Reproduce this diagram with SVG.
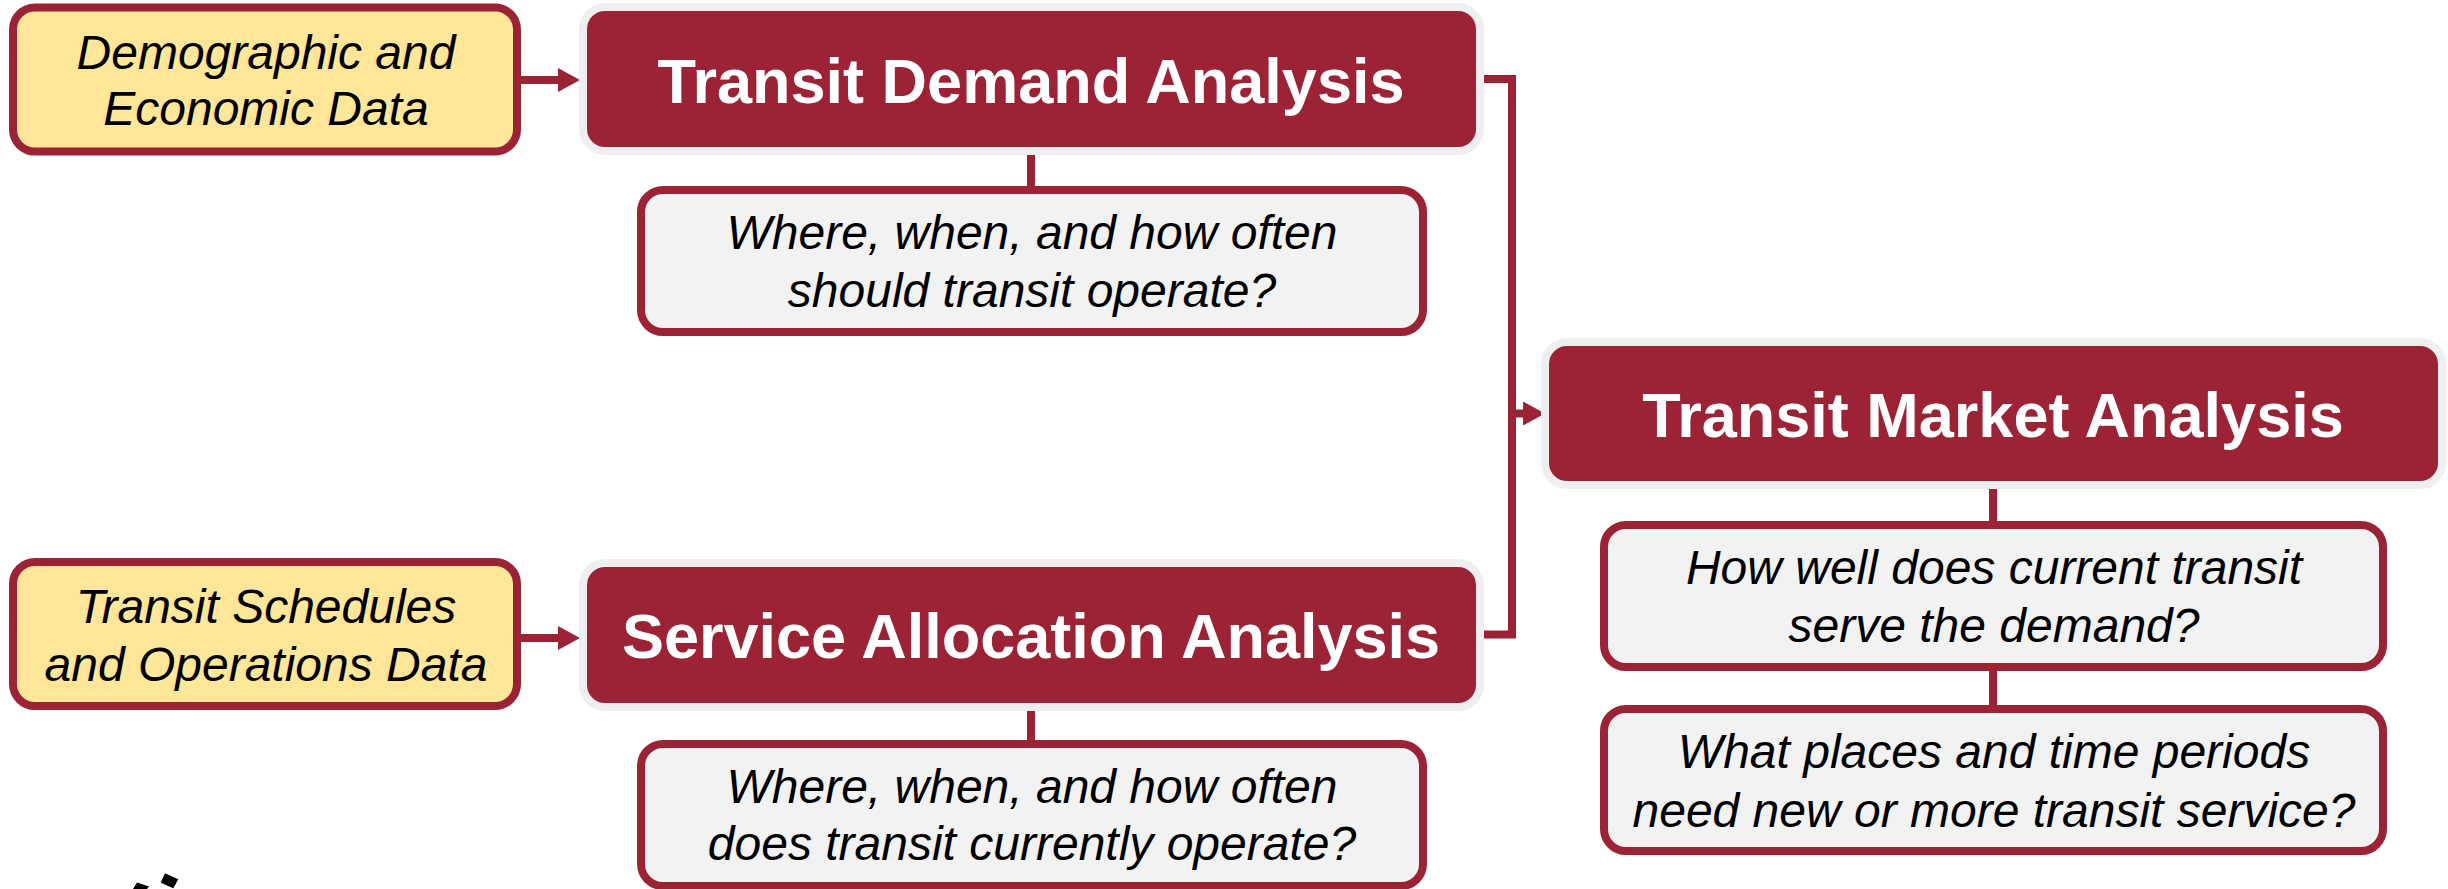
<svg xmlns="http://www.w3.org/2000/svg" width="2448" height="889" viewBox="0 0 2448 889">
<style>
.inp{fill:#FFE699;stroke:#9B2335;stroke-width:8}
.main{fill:#9B2335;stroke:#EFEFEF;stroke-width:8}
.q{fill:#F2F2F2;stroke:#9B2335;stroke-width:8}
.ti{font-family:"Liberation Sans",Arial,sans-serif;font-style:italic;font-size:48px;fill:#000;text-anchor:middle}
.tb{font-family:"Liberation Sans",Arial,sans-serif;font-weight:bold;font-size:63px;fill:#fff;text-anchor:middle}
.c{fill:none;stroke:#9B2335;stroke-width:8}
</style>
<defs>
<marker id="ah" markerUnits="userSpaceOnUse" markerWidth="22" markerHeight="24" viewBox="0 0 22 24" refX="0" refY="12" orient="auto">
<path d="M0,0 L22,12 L0,24 Z" fill="#9B2335"/>
</marker>
</defs>
<rect width="2448" height="889" fill="#fff"/>
<g id="connectors">
<line class="c" x1="521" y1="80" x2="558" y2="80" marker-end="url(#ah)"/>
<line class="c" x1="521" y1="638" x2="558" y2="638" marker-end="url(#ah)"/>
<polyline class="c" points="1483,79 1512,79 1512,634.5 1483,634.5"/>
<line class="c" x1="1512" y1="413.5" x2="1523" y2="413.5" marker-end="url(#ah)"/>
<line class="c" x1="1031" y1="155" x2="1031" y2="190"/>
<line class="c" x1="1031" y1="711" x2="1031" y2="744"/>
<line class="c" x1="1993" y1="489" x2="1993" y2="525"/>
<line class="c" x1="1993" y1="667" x2="1993" y2="709"/>
</g>
<g id="demographic-data">
<rect class="inp" x="13" y="7.5" width="504" height="144" rx="22"/>
<text class="ti" x="266" y="69">Demographic and</text>
<text class="ti" x="266" y="125">Economic Data</text>
</g>
<g id="schedules-data">
<rect class="inp" x="13" y="562" width="504" height="144" rx="22"/>
<text class="ti" x="266" y="623">Transit Schedules</text>
<text class="ti" x="266" y="681">and Operations Data</text>
</g>
<g id="transit-demand">
<rect class="main" x="583" y="7" width="897" height="144" rx="22"/>
<text class="tb" x="1031" y="103">Transit Demand Analysis</text>
</g>
<g id="service-allocation">
<rect class="main" x="583" y="563" width="897" height="144" rx="22"/>
<text class="tb" x="1031" y="658">Service Allocation Analysis</text>
</g>
<g id="transit-market">
<rect class="main" x="1545" y="342" width="897" height="143" rx="22"/>
<text class="tb" x="1993" y="437">Transit Market Analysis</text>
</g>
<g id="q-demand">
<rect class="q" x="641" y="190" width="782" height="142" rx="22"/>
<text class="ti" x="1032" y="249">Where, when, and how often</text>
<text class="ti" x="1032" y="307">should transit operate?</text>
</g>
<g id="q-service">
<rect class="q" x="641" y="744" width="782" height="142" rx="22"/>
<text class="ti" x="1032" y="803">Where, when, and how often</text>
<text class="ti" x="1032" y="860">does transit currently operate?</text>
</g>
<g id="q-market-1">
<rect class="q" x="1604" y="525" width="779" height="142" rx="22"/>
<text class="ti" x="1994" y="584">How well does current transit</text>
<text class="ti" x="1994" y="642">serve the demand?</text>
</g>
<g id="q-market-2">
<rect class="q" x="1604" y="709" width="779" height="142" rx="22"/>
<text class="ti" x="1994" y="768">What places and time periods</text>
<text class="ti" x="1994" y="827">need new or more transit service?</text>
</g>
<polygon points="165,873.3 178.3,879.3 173.3,888.3 160.7,882.7" fill="#000"/>
<polygon points="137,882.5 149,886.5 147,889 133,889" fill="#000"/>
</svg>
